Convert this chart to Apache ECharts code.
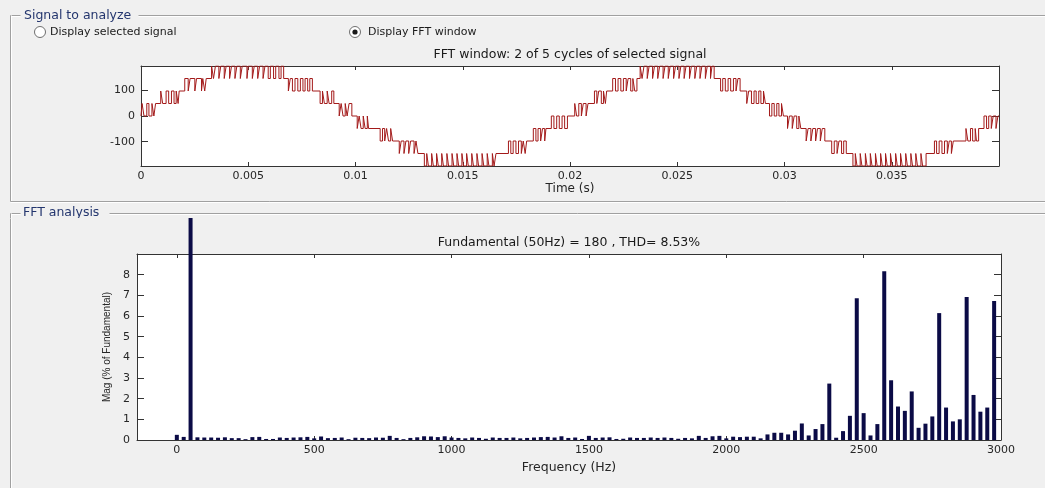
<!DOCTYPE html>
<html><head><meta charset="utf-8">
<script src="https://cdn.jsdelivr.net/npm/echarts@6/dist/echarts.min.js"></script>
<style>
html,body{margin:0;padding:0;background:#f0f0f0;width:1045px;height:488px;overflow:hidden}
#top{position:absolute;left:0;top:0;width:1045px;height:218px}
#bot{position:absolute;left:0;top:218px;width:1045px;height:270px}
</style></head><body>
<div id="top"></div><div id="bot"></div>
<script>
// ---------------- data ----------------
const panelTitles = ['Signal to analyze', 'FFT analysis'];
const radioLabels = ['Display selected signal', 'Display FFT window'];
const signalTitle = 'FFT window: 2 of 5 cycles of selected signal';
const fftTitle = 'Fundamental (50Hz) = 180 , THD= 8.53%';

const timeTicks = [0, 0.005, 0.01, 0.015, 0.02, 0.025, 0.03, 0.035];
const signalTicks = [-100, 0, 100];
const freqTicks = [0, 500, 1000, 1500, 2000, 2500, 3000];
const magTicks = [0, 1, 2, 3, 4, 5, 6, 7, 8];

// multilevel signal: level step (V), lower level of each band, switching instants (ms)
const levelStepV = 48.75;
const windowEndMs = 40;
const bandLowLevel = [0,1,2,3,2,1,0,-1,-2,-3,-4,-3,-2,-1, 0,1,2,3,2,1,0,-1,-2,-3,-4,-3,-2,-1];
const bandEdgesMs = [
  [0.05,0.14,0.27,0.37,0.51,0.60,0.68],
  [0.92,1.01,1.17,1.29,1.42,1.54,1.64,1.73,1.78],
  [2.04,2.20,2.29,2.51,2.59,2.82,2.88,2.97,3.04],
  [3.29,3.38,3.47,3.63,3.72,3.88,3.97,4.13,4.22,4.38,4.47,4.63,4.72,4.94,5.00,5.19,5.28,5.44,5.53,5.69,5.78,5.93,6.03,6.18,6.28,6.43,6.53,6.65],
  [6.87,6.96,7.06,7.18,7.31,7.43,7.55,7.65,7.77,7.87,7.99],
  [8.35,8.46,8.55,8.68,8.77,8.89,8.99],
  [9.24,9.33,9.42,9.52,9.61,9.70,9.83],
  [10.08,10.17,10.26,10.36,10.45,10.55,10.61],
  [11.15,11.26,11.36,11.45,11.54,11.64,11.73],
  [12.04,12.13,12.26,12.35,12.48,12.57,12.73,12.82,12.91],
  [13.21,13.32,13.40,13.55,13.63,13.78,13.86,14.02,14.10,14.26,14.34,14.50,14.58,14.73,14.81,14.96,15.04,15.18,15.26,15.42,15.50,15.66,15.74,15.90,15.98,16.14,16.22,16.38,16.46,16.55],
  [17.13,17.24,17.35,17.48,17.60,17.73,17.82,17.91,17.98],
  [18.29,18.41,18.51,18.63,18.72,18.82,18.88],
  [19.13,19.25,19.38,19.50,19.63,19.75,19.88],
  [20.22,20.31,20.41,20.53,20.62,20.75,20.84],
  [21.14,21.25,21.34,21.46,21.56,21.65,21.71],
  [21.99,22.12,22.24,22.37,22.49,22.62,22.71,22.83,22.93,23.02,23.12],
  [23.27,23.36,23.45,23.60,23.69,23.85,23.94,24.09,24.18,24.34,24.43,24.58,24.67,24.83,24.92,25.08,25.17,25.32,25.41,25.57,25.66,25.82,25.91,26.06,26.15,26.31,26.40,26.55,26.62,26.72],
  [27.02,27.12,27.24,27.37,27.49,27.62,27.74,27.83,27.93],
  [28.24,28.33,28.46,28.58,28.68,28.80,28.90,29.02,29.11],
  [29.30,29.41,29.52,29.64,29.74,29.86,29.95],
  [30.14,30.23,30.36,30.45,30.57,30.67,30.76],
  [31.01,31.10,31.23,31.32,31.45,31.54,31.67,31.76,31.88],
  [32.20,32.32,32.45,32.54,32.66,32.76,32.88],
  [33.19,33.30,33.38,33.53,33.61,33.77,33.85,34.00,34.08,34.24,34.32,34.48,34.56,34.71,34.79,34.94,35.02,35.18,35.26,35.41,35.49,35.65,35.73,35.89,35.97,36.12,36.20,36.36,36.44,36.60],
  [36.99,37.09,37.21,37.34,37.46,37.59,37.68,37.78,37.87],
  [38.46,38.55,38.67,38.77,38.89,38.95,39.05],
  [39.30,39.42,39.52,39.64,39.73,39.86,39.95]
];

// FFT magnitudes (% of fundamental), one per 25 Hz bin starting at 0 Hz
const binHz = 25;
const fftMag = [
  0.25,0.15,100,0.13,0.12,0.12,0.11,0.13,0.09,0.09,
  0.04,0.14,0.15,0.05,0.05,0.12,0.10,0.12,0.13,0.15,
  0.08,0.17,0.09,0.10,0.12,0.04,0.11,0.10,0.09,0.12,
  0.11,0.20,0.10,0.04,0.10,0.13,0.18,0.17,0.14,0.18,
  0.12,0.10,0.08,0.12,0.10,0.06,0.12,0.10,0.10,0.12,
  0.08,0.10,0.12,0.14,0.15,0.12,0.18,0.10,0.12,0.05,
  0.20,0.10,0.12,0.13,0.05,0.06,0.12,0.10,0.10,0.12,
  0.10,0.12,0.10,0.06,0.10,0.08,0.20,0.10,0.18,0.20,
  0.08,0.16,0.14,0.16,0.16,0.08,0.27,0.35,0.35,0.27,
  0.45,0.80,0.22,0.53,0.77,2.73,0.11,0.43,1.17,6.86,
  1.30,0.22,0.77,8.16,2.89,1.62,1.41,2.35,0.59,0.79,
  1.14,6.14,1.57,0.90,1.00,6.92,2.18,1.37,1.57,6.73
];

// ---------------- build ----------------
function buildSignal() {
  let level = 0;
  const pts = [[0, 0]];
  bandEdgesMs.forEach((edges, b) => {
    const lo = bandLowLevel[b], hi = lo + 1;
    edges.forEach(t => {
      level = (level === hi) ? lo : hi;
      pts.push([t / 1000, level * levelStepV]);
    });
  });
  pts.push([windowEndMs / 1000, level * levelStepV]);
  return pts;
}
const signalData = buildSignal();
const fftData = fftMag.map((v, i) => [i * binHz, v]);

const FONT = '"DejaVu Sans", sans-serif';
const AX = '#333';
const TXT = '#262626';
const FRAME = '#a0a0a0';
const LABEL = '#24366e';
const plain = v => String(v);

function etched(x1, y1, x2, y2) {
  const dx = (x1 === x2) ? 1 : 0, dy = (y1 === y2) ? 1 : 0;
  return [
    {type: 'line', shape: {x1: x1 + 0.5, y1: y1 + 0.5, x2: x2 + 0.5, y2: y2 + 0.5}, style: {stroke: FRAME, lineWidth: 1}, silent: true},
    {type: 'line', shape: {x1: x1 + dx + 0.5, y1: y1 + dy + 0.5, x2: x2 + dx + 0.5, y2: y2 + dy + 0.5}, style: {stroke: '#ffffff', lineWidth: 1}, silent: true}
  ];
}
function label(text, x, y, size, color) {
  return {type: 'text', x: x, y: y, silent: true,
    style: {text: text, fontFamily: 'DejaVu Sans', fontSize: size, fill: color,
      align: 'left', verticalAlign: 'middle', textAlign: 'left', textVerticalAlign: 'middle'}};
}
function boxAxis(common, extra) { return Object.assign({}, common, extra); }

// ---------------- top chart ----------------
const topChart = echarts.init(document.getElementById('top'));
const tAxisCommon = {
  type: 'value', min: 0, max: 0.04,
  axisLine: {show: true, onZero: false, lineStyle: {color: AX, width: 1}},
  axisTick: {show: true, inside: true, length: 4, customValues: timeTicks, lineStyle: {color: AX}},
  splitLine: {show: false}
};
const sAxisCommon = {
  type: 'value', min: -195, max: 195,
  axisLine: {show: true, onZero: false, lineStyle: {color: AX, width: 1}},
  axisTick: {show: true, inside: true, length: 7, customValues: signalTicks, lineStyle: {color: AX}},
  splitLine: {show: false}
};
topChart.setOption({
  animation: false,
  backgroundColor: '#f0f0f0',
  title: {text: signalTitle, left: 570, top: 48, textAlign: 'center', padding: 0,
    textStyle: {fontFamily: FONT, fontSize: 12.5, fontWeight: 'normal', color: '#1a1a1a'}},
  grid: {left: 141, top: 66, width: 858, height: 100, show: true, backgroundColor: '#ffffff', borderWidth: 0, containLabel: false, outerBoundsMode: 'none'},
  xAxis: [
    boxAxis(tAxisCommon, {position: 'bottom', name: 'Time (s)', nameLocation: 'middle', nameGap: 12,
      nameTextStyle: {fontFamily: FONT, fontSize: 12, color: TXT},
      axisLabel: {show: true, customValues: timeTicks, margin: 5, formatter: plain, fontFamily: FONT, fontSize: 11, color: TXT}}),
    boxAxis(tAxisCommon, {position: 'top', axisLabel: {show: false}})
  ],
  yAxis: [
    boxAxis(sAxisCommon, {position: 'left',
      axisLabel: {show: true, customValues: signalTicks, margin: 6, formatter: plain, fontFamily: FONT, fontSize: 11, color: TXT}}),
    boxAxis(sAxisCommon, {position: 'right', axisLabel: {show: false}})
  ],
  series: [{
    type: 'line', step: 'end', data: signalData, xAxisIndex: 0, yAxisIndex: 0,
    symbol: 'none', showSymbol: false, silent: true, clip: true,
    lineStyle: {color: '#a31a1a', width: 1}
  }],
  graphic: [].concat(
    etched(10, 15, 20, 15), etched(138, 15, 1045, 15), etched(10, 15, 10, 201), etched(10, 201, 1045, 201),
    etched(10, 213, 20, 213), etched(109, 213, 1045, 213), etched(10, 213, 10, 218),
    [
      label(panelTitles[0], 24, 15.5, 12.5, LABEL),
      label(panelTitles[1], 23, 212.5, 12.5, LABEL),
      {type: 'circle', shape: {cx: 40, cy: 32, r: 5.5}, style: {fill: '#ffffff', stroke: '#6f6f6f', lineWidth: 1}, silent: true},
      {type: 'circle', shape: {cx: 355, cy: 32, r: 5.5}, style: {fill: '#ffffff', stroke: '#6f6f6f', lineWidth: 1}, silent: true},
      {type: 'circle', shape: {cx: 355, cy: 32, r: 2.6}, style: {fill: '#1a1a1a'}, silent: true},
      label(radioLabels[0], 50, 32.5, 11, '#1a1a1a'),
      label(radioLabels[1], 368, 32.5, 11, '#1a1a1a')
    ])
});

// ---------------- bottom chart ----------------
const botChart = echarts.init(document.getElementById('bot'));
const fAxisCommon = {
  type: 'value', min: -145, max: 3000,
  axisLine: {show: true, onZero: false, lineStyle: {color: AX, width: 1}},
  axisTick: {show: true, inside: true, length: 4, customValues: freqTicks, lineStyle: {color: AX}},
  splitLine: {show: false}
};
const mAxisCommon = {
  type: 'value', min: 0, max: 9,
  axisLine: {show: true, onZero: false, lineStyle: {color: AX, width: 1}},
  axisTick: {show: true, inside: true, length: 7, customValues: magTicks, lineStyle: {color: AX}},
  splitLine: {show: false}
};
botChart.setOption({
  animation: false,
  backgroundColor: 'transparent',
  title: {text: fftTitle, left: 569, top: 18, textAlign: 'center', padding: 0,
    textStyle: {fontFamily: FONT, fontSize: 12.5, fontWeight: 'normal', color: '#1a1a1a'}},
  grid: {left: 137, top: 36, width: 864, height: 186, show: true, backgroundColor: '#ffffff', borderWidth: 0, containLabel: false, outerBoundsMode: 'none'},
  xAxis: [
    boxAxis(fAxisCommon, {position: 'bottom', name: 'Frequency (Hz)', nameLocation: 'middle', nameGap: 11,
      nameTextStyle: {fontFamily: FONT, fontSize: 12.5, color: TXT},
      axisLabel: {show: true, customValues: freqTicks, margin: 5, formatter: plain, fontFamily: FONT, fontSize: 11, color: TXT}}),
    boxAxis(fAxisCommon, {position: 'top', axisLabel: {show: false}})
  ],
  yAxis: [
    boxAxis(mAxisCommon, {position: 'left', name: 'Mag (% of Fundamental)', nameLocation: 'middle', nameRotate: 90, nameGap: 23,
      nameTextStyle: {fontFamily: '"Liberation Sans", sans-serif', fontSize: 10, color: TXT},
      axisLabel: {show: true, customValues: magTicks, margin: 7, formatter: plain, fontFamily: FONT, fontSize: 11, color: TXT}}),
    boxAxis(mAxisCommon, {position: 'right', axisLabel: {show: false}})
  ],
  series: [{
    type: 'bar', data: fftData, xAxisIndex: 0, yAxisIndex: 0, barWidth: 4, clip: false, silent: true,
    itemStyle: {color: '#0b0b46'}
  }],
  graphic: [].concat(etched(10, 0, 10, 270))
});
</script></body></html>
